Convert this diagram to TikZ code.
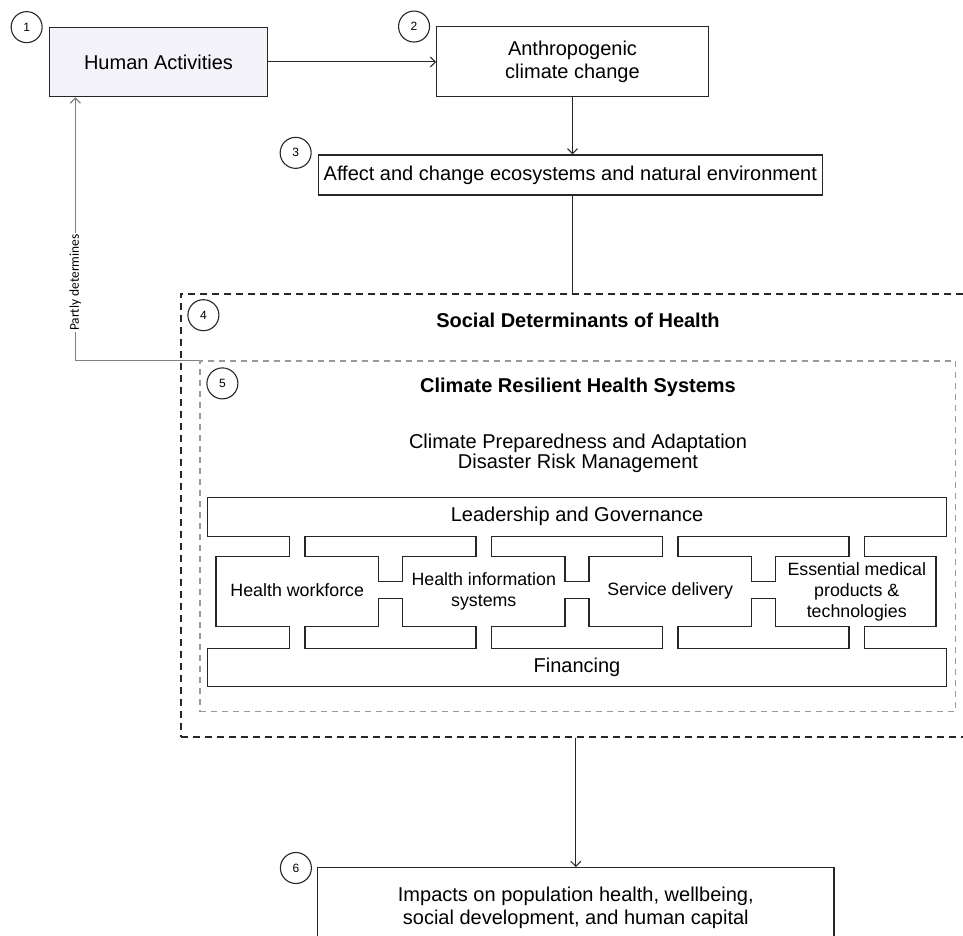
\documentclass[tikz,border=0pt]{standalone}
\usepackage{fontspec}
\setmainfont{Liberation Sans}
\newfontfamily\lblfont{Carlito}
\usepackage{xcolor}
\usetikzlibrary{positioning,arrows.meta,calc}
\definecolor{actfill}{HTML}{F3F3F9}
\definecolor{edge}{HTML}{262626}
\definecolor{lightdash}{HTML}{9A9A9A}
\definecolor{linkgray}{HTML}{808080}
\tikzset{
  box/.style={draw=edge, line width=1.3pt, align=center, inner sep=0pt,
              font=\fontsize{20}{22.4}\selectfont},
  num/.style={draw=edge, circle, line width=1.1pt, minimum size=31pt,
              inner sep=0pt, font=\fontsize{12}{12}\selectfont},
  arr/.style={-{Straight Barb[length=5pt,width=10pt]}, line width=1pt, draw=edge},
  link/.style={line width=1pt, draw=edge},
  fb/.style={-{Straight Barb[length=5pt,width=10pt]}, line width=1.2pt, draw=linkgray},
  outerdash/.style={draw=edge, line width=1.6pt, dash pattern=on 7pt off 5pt,
                    inner sep=0pt},
  innerdash/.style={draw=lightdash, line width=1.2pt, dash pattern=on 6pt off 5pt,
                    inner sep=0pt},
  title/.style={font=\bfseries\fontsize{20}{24}\selectfont},
  plain/.style={align=center, font=\fontsize{20}{20}\selectfont},
  blocktxt/.style={align=center, font=\fontsize{17.8}{20.8}\selectfont},
  wall/.style={draw=edge, line width=1.4pt, line join=miter},
}

\begin{document}
\begin{tikzpicture}[x=1pt, y=-1pt]
  \fill[white, use as bounding box] (0,0) rectangle (963,936);
  \clip (0,0) rectangle (963,936);

  \node[box, fill=actfill, minimum width=218.4pt, minimum height=69.4pt] (act) at (158.5,62) {Human Activities};
  \node[box, minimum width=271.6pt, minimum height=70pt] (acc) at (572.5,61.7) {Anthropogenic\\climate change};
  \node[box, minimum width=504pt, minimum height=40pt] (eco) at (570.3,175) {Affect and change ecosystems and natural environment};
  \node[outerdash, minimum width=800pt, minimum height=442.7pt] (sdh) at (580.7,515.35) {};
  \node[innerdash, minimum width=755.5pt, minimum height=350.7pt] (crhs) at (577.75,536.35) {};
  \node[box, anchor=north, minimum width=516.5pt, minimum height=80pt] (imp) at (575.8,867)
    {Impacts on population health, wellbeing,\\social development, and human capital};

  \node[num] (n1) at ([shift={(-22,0.5)}]act.north west) {1};
  \node[num] (n2) at ([shift={(-22,0.5)}]acc.north west) {2};
  \node[num] (n3) at ([shift={(-22,-1.5)}]eco.north west) {3};
  \node[num] (n4) at ([shift={(23.5,22)}]sdh.north west) {4};
  \node[num] (n5) at ([shift={(23,23)}]crhs.north west) {5};
  \node[num] (n6) at ([shift={(-21,1)}]imp.north west) {6};

  \node[title] (sdht) at (578,320) {Social Determinants of Health};
  \node[title] (crhst) at (578,387) {Climate Resilient Health Systems};
  \node[plain] (prep) at (578,453) {Climate Preparedness and Adaptation\\Disaster Risk Management};

  % building blocks
  \draw[wall] (207.3,497.5) -- (946.7,497.5) -- (946.7,536.7) -- (864.55,536.7)
    -- (864.55,556.7) -- (936,556.7) -- (936,626.7) -- (864.55,626.7)
    -- (864.55,648.3) -- (946.7,648.3) -- (946.7,686.7) -- (207.3,686.7)
    -- (207.3,648.3) -- (289.45,648.3) -- (289.45,626.7) -- (216,626.7)
    -- (216,556.7) -- (289.45,556.7) -- (289.45,536.7) -- (207.3,536.7) -- cycle;
  \foreach \m in {390.5,577,763.5}{
    \draw[wall] (\m-85.45,536.7) -- (\m+85.45,536.7) -- (\m+85.45,556.7) -- (\m+12,556.7)
      -- (\m+12,581.7) -- (\m-12,581.7) -- (\m-12,556.7) -- (\m-85.45,556.7) -- cycle;
    \draw[wall] (\m-85.45,648.3) -- (\m+85.45,648.3) -- (\m+85.45,626.7) -- (\m+12,626.7)
      -- (\m+12,598.3) -- (\m-12,598.3) -- (\m-12,626.7) -- (\m-85.45,626.7) -- cycle;
  }
  \node[plain] (lg) at (577,516.7) {Leadership and Governance};
  \node[plain] (fin) at (577,667) {Financing};
  \node[blocktxt] (hw) at (297.25,590) {Health workforce};
  \node[blocktxt] (his) at (483.75,591) {Health information\\systems};
  \node[blocktxt] (sd) at (670.25,591) {Service delivery};
  \node[blocktxt] (emp) at (856.75,592) {Essential medical\\products \&\\technologies};

  \draw[arr] (act.east) -- (act.east -| acc.west);
  \draw[arr] (acc.south) -- (acc.south |- eco.north);
  \draw[link] (acc.south |- eco.south) -- (acc.south |- sdh.north);
  \draw[arr] (imp.north |- sdh.south) -- (imp.north);
  \draw[fb] (crhs.north west) -| node[pos=0.648, rotate=90, fill=white, inner sep=1.5pt,
      font=\lblfont\fontsize{13.4}{14}\selectfont] (pdt) {Partly determines}
    ([shift={(26.7,0)}]act.south west);
\end{tikzpicture}
\end{document}
